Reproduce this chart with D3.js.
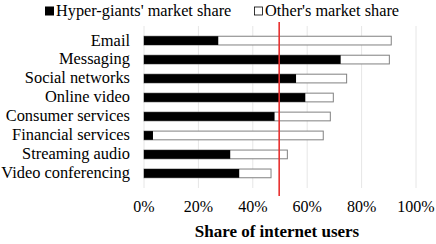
<!DOCTYPE html>
<html>
<head>
<meta charset="utf-8">
<script src="https://cdn.jsdelivr.net/npm/d3@7"></script>
</head>
<body style="margin:0">
<svg id="chart" width="436" height="244" font-family="Liberation Serif"></svg>
<script>
// services, top to bottom
const categories = ["Email", "Messaging", "Social networks", "Online video",
  "Consumer services", "Financial services", "Streaming audio", "Video conferencing"];
// share of internet users (%) reached by hyper-giants
const hyperShare = [27.3, 72.3, 55.9, 59.3, 48.0, 3.3, 31.7, 35.0];
// total share of internet users (%) using the service
const totalShare = [90.9, 90.2, 74.5, 69.6, 68.5, 65.9, 52.7, 46.7];
const xTicks = [0, 20, 40, 60, 80, 100];
const threshold = 49.7;

const svg = d3.select("#chart");

let x = d3.scaleLinear().domain([0, 100]).range([144, 416]);
let y = d3.scaleBand().domain(categories).range([26, 188]).padding(0.54);

// gridlines
svg.append("g")
  .selectAll("line")
  .data(xTicks)
  .join("line")
    .attr("x1", d => x(d)).attr("x2", d => x(d))
    .attr("y1", 26).attr("y2", 188)
    .attr("stroke", "#e6e6e6")
    .attr("stroke-width", 1);

let rows = categories.map((c, i) => ({ name: c, hyper: hyperShare[i], total: totalShare[i] }));

// other's share (outlined), drawn full length then covered by hyper-giants
svg.append("g")
  .selectAll("rect")
  .data(rows)
  .join("rect")
    .attr("x", x(0))
    .attr("y", d => y(d.name))
    .attr("width", d => x(d.total) - x(0))
    .attr("height", y.bandwidth())
    .attr("fill", "#fff")
    .attr("stroke", "#808080")
    .attr("stroke-width", 1);

svg.append("g")
  .selectAll("rect")
  .data(rows)
  .join("rect")
    .attr("x", x(0))
    .attr("y", d => y(d.name))
    .attr("width", d => x(d.hyper) - x(0))
    .attr("height", y.bandwidth())
    .attr("fill", "#000");

// threshold line
svg.append("line")
  .attr("x1", x(threshold)).attr("x2", x(threshold))
  .attr("y1", 22).attr("y2", 196)
  .attr("stroke", "#e8302f")
  .attr("stroke-width", 1.6);

// category labels
svg.append("g")
  .selectAll("text")
  .data(categories)
  .join("text")
    .attr("x", 130)
    .attr("y", d => y(d) + y.bandwidth() / 2)
    .attr("dy", "0.3em")
    .attr("text-anchor", "end")
    .attr("font-size", 16.4)
    .text(d => d);

// x tick labels
svg.append("g")
  .selectAll("text")
  .data(xTicks)
  .join("text")
    .attr("x", d => x(d))
    .attr("y", 211.5)
    .attr("text-anchor", "middle")
    .attr("font-size", 16)
    .text(d => d + "%");

// axis title
svg.append("text")
  .attr("x", 277)
  .attr("y", 237)
  .attr("text-anchor", "middle")
  .attr("font-size", 17)
  .attr("font-weight", "bold")
  .text("Share of internet users");

// legend
let legend = svg.append("g").attr("font-size", 16.3);
legend.append("rect").attr("x", 45).attr("y", 6.5).attr("width", 9).attr("height", 9).attr("fill", "#000");
legend.append("text").attr("x", 56).attr("y", 16).text("Hyper-giants' market share");
legend.append("rect").attr("x", 254.5).attr("y", 7).attr("width", 8).attr("height", 8)
  .attr("fill", "#fff").attr("stroke", "#000").attr("stroke-width", 0.8);
legend.append("text").attr("x", 265).attr("y", 16).text("Other's market share");
</script>
</body>
</html>
